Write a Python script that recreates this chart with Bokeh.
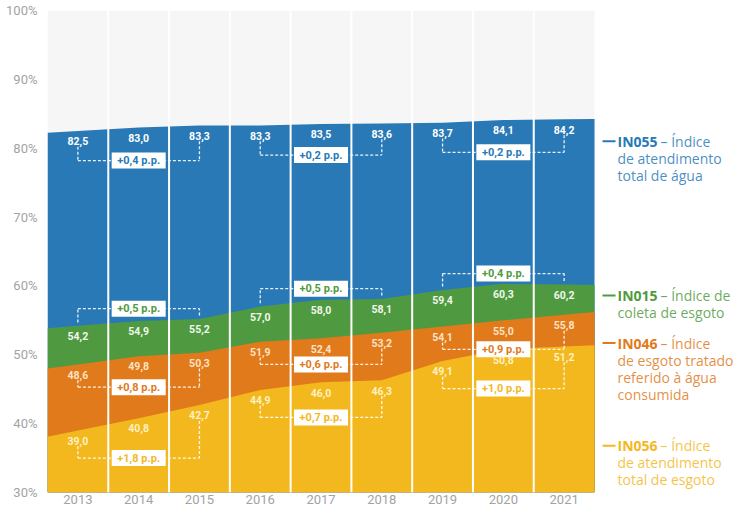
from bokeh.plotting import figure
from bokeh.models import FixedTicker, Range1d, PrintfTickFormatter
from bokeh.core.properties import value
from bokeh.embed import file_html
from bokeh.resources import INLINE

# ---------------- data ----------------
years = [2013, 2014, 2015, 2016, 2017, 2018, 2019, 2020, 2021]
in055 = [82.5, 83.0, 83.3, 83.3, 83.5, 83.6, 83.7, 84.1, 84.2]
in015 = [54.2, 54.9, 55.2, 57.0, 58.0, 58.1, 59.4, 60.3, 60.2]
in046 = [48.6, 49.8, 50.3, 51.9, 52.4, 53.2, 54.1, 55.0, 55.8]
in056 = [39.0, 40.8, 42.7, 44.9, 46.0, 46.3, 49.1, 50.8, 51.2]
change_055 = ["+0,4 p.p.", "+0,2 p.p.", "+0,2 p.p."]
change_015 = ["+0,5 p.p.", "+0,5 p.p.", "+0,4 p.p."]
change_046 = ["+0,8 p.p.", "+0,6 p.p.", "+0,9 p.p."]
change_056 = ["+1,8 p.p.", "+0,7 p.p.", "+1,0 p.p."]
y_ticks = [30, 40, 50, 60, 70, 80, 90, 100]
codes = ["IN055", "IN015", "IN046", "IN056"]
first_lines = ["– Índice", "– Índice de", "– Índice", "– Índice"]
more_lines = [["de atendimento", "total de água"],
              ["coleta de esgoto"],
              ["de esgoto tratado", "referido à água", "consumida"],
              ["de atendimento", "total de esgoto"]]

# ---------------- styles / layout ----------------
BLUE, GREEN, ORANGE, YELLOW = "#2979b7", "#4f9a40", "#e07a1b", "#f4b81f"
FONT = value("Roboto")
LFONT = value("Open Sans")
W, H = 733, 508
LEFT = 47
COL_PX = 60.78
x_end = 2012.5 + (W - LEFT) / COL_PX

p = figure(width=W, height=H, output_backend="svg", toolbar_location=None,
           x_range=Range1d(2012.5, x_end), y_range=Range1d(30, 100),
           min_border_left=LEFT, min_border_right=0, min_border_top=10,
           min_border_bottom=16, title=None)
p.outline_line_color = None
p.background_fill_color = "white"
p.border_fill_color = "white"
p.xgrid.visible = False
p.ygrid.visible = False

for ax in (p.xaxis[0], p.yaxis[0]):
    ax.axis_line_color = None
    ax.major_tick_line_color = None
    ax.minor_tick_line_color = None
    ax.major_tick_out = 0
    ax.major_tick_in = 0
    ax.major_label_text_color = "#a3a3a3"
    ax.major_label_text_font = "Roboto"
    ax.major_label_text_font_size = "13px"
p.yaxis.ticker = FixedTicker(ticks=y_ticks)
p.yaxis.formatter = PrintfTickFormatter(format="%d%%")
p.yaxis.major_label_standoff = 10
p.xaxis.ticker = FixedTicker(ticks=years)
p.xaxis.major_label_standoff = 2

x0, x1 = years[0] - 0.5, years[-1] + 0.5
# light background of chart area
p.quad(left=[x0], right=[x1], bottom=[30], top=[100], fill_color="#f6f6f6", line_color=None)

def edges(v):
    xs = [x0] + years + [x1]
    ys = [v[0] - (v[1] - v[0]) / 2] + list(v) + [v[-1] + (v[-1] - v[-2]) / 2]
    return xs, ys

for vals, col in ((in055, BLUE), (in015, GREEN), (in046, ORANGE), (in056, YELLOW)):
    xs, ys = edges(vals)
    p.varea(x=xs, y1=[30] * len(xs), y2=ys, fill_color=col)

# white column separators
seps = [y + 0.5 for y in years[:-1]]
p.segment(x0=seps, y0=[30] * len(seps), x1=seps, y1=[100] * len(seps),
          line_color="white", line_width=2)

# brackets + change boxes
series = [
    (in055, change_055, BLUE, "white", "below", 4.3),
    (in015, change_015, GREEN, "#f2f7ee", "above", 1.5),
    (in046, change_046, ORANGE, "#fde3c6", "below", 3.3),
    (in056, change_056, YELLOW, "#fff1c2", "below", 4.0),
]
sx0, sy0, sx1, sy1 = [], [], [], []
bx, by, btxt, bcol = [], [], [], []
for vals, chg, col, lab_col, mode, off in series:
    for g in range(3):
        i0, i1, i2 = 3 * g, 3 * g + 1, 3 * g + 2
        if mode == "below":
            L = min(vals[i0], vals[i2]) - off
            t0 = max(vals[i0] - 2.3, L + 0.6)
            t2 = max(vals[i2] - 2.3, L + 0.6)
        else:
            L = max(vals[i0], vals[i1], vals[i2]) + off
            t0 = vals[i0] + 0.5
            t2 = vals[i2] + 0.5
        sx0 += [years[i0], years[i0], years[i2]]
        sx1 += [years[i2], years[i0], years[i2]]
        sy0 += [L, t0, t2]
        sy1 += [L, L, L]
        bx.append(years[i1]); by.append(L); btxt.append(chg[g]); bcol.append(col)

p.segment(x0=sx0, y0=sy0, x1=sx1, y1=sy1, line_color="white", line_alpha=0.9,
          line_width=1.3, line_dash="3 2")
p.rect(x=bx, y=by, width=54, height=16, width_units="screen", height_units="screen",
       fill_color="white", line_color=None)
p.text(x=bx, y=by, text=btxt, text_color=bcol, text_font=FONT, text_font_style="bold",
       text_font_size="11px", text_align="center", text_baseline="middle")

# value labels
for vals, chg, col, lab_col, mode, off in series:
    p.text(x=years, y=[v - 1.5 for v in vals], text=[f"{v:.1f}".replace(".", ",") for v in vals],
           text_color=lab_col, text_font=FONT, text_font_style="bold",
           text_font_size="10.5px", text_align="center", text_baseline="middle")

# right-hand legend
legend_y = [81.0, 58.6, 51.7, 36.8]
line_step = 2.47
lx_line0 = x1 + 8 / COL_PX
lx_line1 = x1 + 21 / COL_PX
lx_text = x1 + 23 / COL_PX
for code, first, rest, ly, col in zip(codes, first_lines, more_lines, legend_y,
                                      [BLUE, GREEN, ORANGE, YELLOW]):
    p.segment(x0=[lx_line0], y0=[ly], x1=[lx_line1], y1=[ly], line_color=col, line_width=2)
    p.text(x=[lx_text], y=[ly], text=[code], text_color=col, text_font=LFONT,
           text_font_style="bold", text_font_size="14px", text_baseline="middle")
    p.text(x=[lx_text], y=[ly], text=[first], x_offset=43, text_color=col, text_font=LFONT,
           text_font_size="14px", text_baseline="middle", text_alpha=0.85)
    p.text(x=[lx_text] * len(rest), y=[ly - line_step * (k + 1) for k in range(len(rest))],
           text=rest, text_color=col, text_font=LFONT, text_font_size="14px",
           text_baseline="middle", text_alpha=0.85)

open("out.html", "w").write(file_html(p, INLINE))
